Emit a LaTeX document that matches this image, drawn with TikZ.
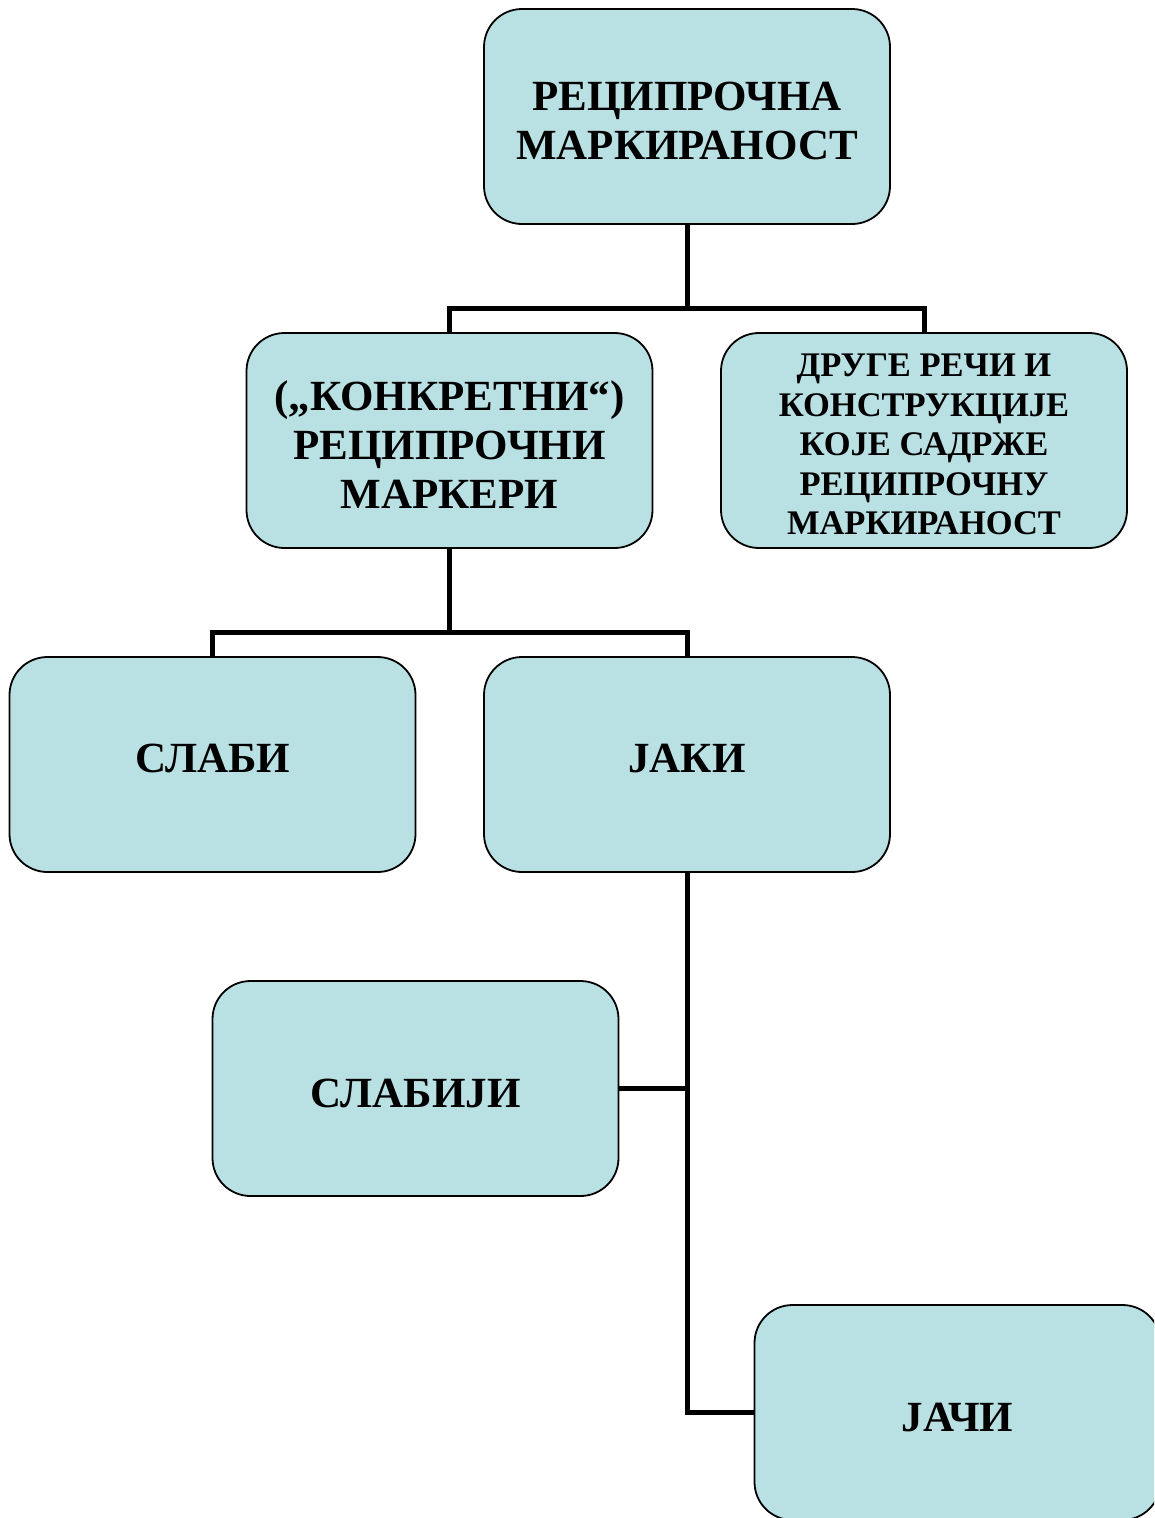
\documentclass[tikz,border=0pt]{standalone}
\usepackage{fontspec}
\setmainfont{Liberation Serif}
\begin{document}
\begin{tikzpicture}[x=1pt,y=-1pt,
  box/.style={draw=black,line width=1.8pt,fill=boxblue,rounded corners=38pt,
    minimum width=406pt,minimum height=215pt,inner sep=0pt},
  txt/.style={inner sep=0pt,align=center,font=\bfseries\fontsize{43}{49}\selectfont},
  small/.style={font=\bfseries\fontsize{34.5}{39.5}\selectfont},
  conn/.style={line width=5pt,draw=black}]
\definecolor{boxblue}{HTML}{B9E0E3}
\clip (0,0) rectangle (1154,1518);
\fill[white] (0,0) rectangle (1154,1518);
\node[box] (top) at (687,116.5) {};
\node[box] (konk) at (449.5,440.5) {};
\node[box] (druge) at (924,440.5) {};
\node[box] (slabi) at (212.5,764.5) {};
\node[box] (jaki) at (687,764.5) {};
\node[box] (slabiji) at (415.5,1088.5) {};
\node[box] (jaci) at (957.5,1412.5) {};
\node[txt] (ttop) at ([yshift=-4pt]top.center) {РЕЦИПРОЧНА\\МАРКИРАНОСТ};
\node[txt] (tkonk) at ([yshift=-4pt]konk.center) {(„КОНКРЕТНИ“)\\РЕЦИПРОЧНИ\\МАРКЕРИ};
\node[txt,small] (tdruge) at ([yshift=-4pt]druge.center) {ДРУГЕ РЕЧИ И\\КОНСТРУКЦИЈЕ\\КОЈЕ САДРЖЕ\\РЕЦИПРОЧНУ\\МАРКИРАНОСТ};
\node[txt] (tslabi) at ([yshift=6pt]slabi.center) {СЛАБИ};
\node[txt] (tjaki) at ([yshift=6pt]jaki.center) {ЈАКИ};
\node[txt] (tslabiji) at ([yshift=-5pt]slabiji.center) {СЛАБИЈИ};
\node[txt] (tjaci) at ([yshift=-5pt]jaci.center) {ЈАЧИ};
\coordinate (b1) at (687,308);
\coordinate (b2) at (449.5,632);
\draw[conn] (top.south) -- (b1);
\draw[conn] (b1) -| (konk.north);
\draw[conn] (b1) -| (druge.north);
\draw[conn] (konk.south) -- (b2);
\draw[conn] (b2) -| (slabi.north);
\draw[conn] (b2) -| (jaki.north);
\draw[conn] (jaki.south) |- (jaci.west);
\draw[conn] (jaki.south |- slabiji.east) -- (slabiji.east);
\end{tikzpicture}
\end{document}
